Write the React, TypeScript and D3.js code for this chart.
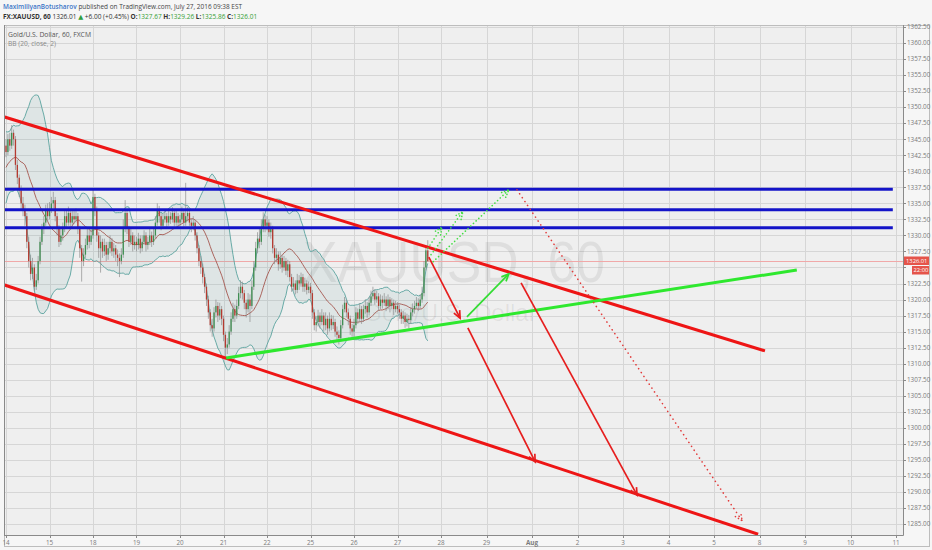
import React, { useRef, useEffect } from 'react';
import * as d3 from 'd3';

// time axis: one slot per trading day, the chart's own labels
const dayLabels = ['14', '15', '18', '19', '20', '21', '22', '25', '26', '27', '28', '29', 'Aug', '2', '3', '4', '5', '8', '9', '10', '11'];
const priceTicks = [
    1285, 1287.5, 1290, 1292.5, 1295, 1297.5, 1300, 1302.5, 1305, 1307.5, 1310, 1312.5, 1315, 1317.5,
    1320, 1322.5, 1325, 1327.5, 1330, 1332.5, 1335, 1337.5, 1340, 1342.5, 1345, 1347.5, 1350, 1352.5,
    1355, 1357.5, 1360, 1362.5,
];
const barsPerDay = 23;

// hourly bars: [high, low, close]; open = previous close
type Bar = [number, number, number];

// closes before the visible window, only used to seed BB(20)
const jul13Seed = [1336, 1334, 1337, 1339, 1341, 1338, 1342, 1344, 1340, 1337, 1339, 1343, 1345, 1342, 1340, 1343, 1341, 1338, 1342, 1344];

const jul14: Bar[] = [
    [1345, 1342.2, 1343], [1345.8, 1342.5, 1345], [1346, 1343.2, 1344], [1347.2, 1343.5, 1346], [1346.5, 1344, 1345],
    [1345.5, 1340.2, 1341], [1341.8, 1338, 1339], [1339.5, 1336, 1337], [1337.8, 1334, 1335], [1336, 1333, 1334],
    [1334.8, 1331.5, 1333], [1333.5, 1328, 1329], [1329.8, 1325, 1326], [1327, 1323, 1324], [1326.5, 1323.2, 1325],
    [1325.5, 1321.3, 1322], [1324, 1321.5, 1323], [1326.8, 1322.5, 1326], [1329.8, 1325.5, 1329], [1331.8, 1328.5, 1331],
    [1333, 1330.2, 1332], [1334.8, 1331.5, 1334], [1335, 1332.2, 1333],
];
const jul15: Bar[] = [
    [1335.2, 1332.5, 1334], [1336, 1333.5, 1335], [1336.8, 1334.2, 1335.5], [1336, 1332.2, 1333], [1333.5, 1330, 1331],
    [1331.6, 1328.2, 1329], [1331, 1328.5, 1330], [1332, 1329.2, 1331], [1333.8, 1330.5, 1333], [1334, 1331.2, 1332],
    [1334.5, 1331.5, 1333.5], [1334, 1331, 1332], [1333.8, 1331.5, 1333], [1334, 1331.8, 1332.5], [1334.2, 1332, 1333],
    [1333.5, 1330.2, 1331], [1331.5, 1326.5, 1328], [1328.5, 1322.8, 1326], [1328, 1325.2, 1327], [1329.5, 1326.5, 1328.5],
    [1331, 1327.8, 1330], [1330.8, 1328, 1329], [1331.2, 1328.5, 1330],
];
const jul18: Bar[] = [
    [1337.3, 1329.5, 1336], [1336.5, 1333, 1334], [1334.5, 1329, 1330], [1330.5, 1326.5, 1328], [1330, 1324.2, 1329],
    [1329.5, 1326.5, 1327.5], [1329.5, 1326.8, 1328.5], [1329, 1326, 1327], [1329, 1326.2, 1328], [1330, 1327.2, 1329],
    [1329.6, 1326.8, 1327.5], [1328.8, 1326.5, 1328], [1328.5, 1326, 1327], [1327.8, 1325.2, 1326.5], [1327.2, 1323.5, 1326],
    [1328, 1325.5, 1327], [1332.5, 1326.5, 1331], [1335.5, 1330.5, 1333.5], [1334, 1330.2, 1331], [1331.5, 1328.2, 1329],
    [1331, 1328.5, 1330], [1330.5, 1327.5, 1328.5], [1330, 1327.8, 1329],
];
const jul19: Bar[] = [
    [1329.8, 1327.5, 1328.5], [1330.4, 1327.8, 1329.5], [1330, 1327.2, 1328], [1330, 1327.5, 1329], [1330.8, 1328.5, 1330],
    [1330.5, 1327.5, 1328.5], [1329.8, 1327.8, 1329], [1331, 1328.5, 1330], [1330.6, 1328.2, 1329], [1331, 1328.5, 1330],
    [1333, 1329.5, 1332], [1335, 1331.5, 1334], [1334.6, 1332, 1333], [1333.5, 1330.8, 1331.5], [1333.4, 1331, 1332.5],
    [1334, 1332, 1333], [1333.5, 1331.2, 1332], [1333.8, 1331.5, 1333], [1333.6, 1331.8, 1332.5], [1334.4, 1332, 1333.5],
    [1334, 1331.4, 1332], [1333.8, 1331.5, 1333], [1333.5, 1331.2, 1332],
];
const jul20: Bar[] = [
    [1333.2, 1331.5, 1332.5], [1334.5, 1332, 1333.5], [1334, 1331.4, 1332], [1338.2, 1331.5, 1333], [1334.4, 1332.2, 1333.5],
    [1334, 1331.5, 1332], [1332.6, 1330.5, 1331.5], [1333, 1330.8, 1332], [1332.4, 1329.2, 1330], [1330.5, 1327.2, 1328],
    [1328.5, 1325.2, 1326], [1326.8, 1324, 1325], [1325.6, 1322.5, 1323.5], [1324, 1321, 1322], [1322.5, 1319, 1320],
    [1320.6, 1317, 1318], [1318.5, 1315, 1316], [1317, 1314.2, 1315.5], [1318.8, 1315, 1318], [1320, 1317.2, 1319],
    [1319.6, 1316.5, 1317.5], [1319.5, 1316.8, 1318.5], [1319, 1316, 1317],
];
const jul21: Bar[] = [
    [1317.5, 1313.5, 1314.5], [1315, 1311, 1312.5], [1314, 1311.5, 1313], [1316, 1312.5, 1315], [1318, 1314.5, 1317],
    [1319.5, 1316.5, 1318.5], [1319.2, 1316.5, 1317.5], [1320, 1317, 1319], [1322, 1318.5, 1321], [1323, 1320.2, 1322],
    [1322.8, 1320, 1321], [1321.5, 1318.5, 1319.5], [1320, 1317.2, 1318.5], [1321, 1318, 1320], [1320.8, 1316.5, 1319],
    [1323, 1318.5, 1322], [1326, 1321.5, 1325], [1329, 1324.5, 1328], [1330.5, 1327.2, 1329.5], [1331, 1328, 1329],
    [1332.5, 1328.5, 1331], [1333.6, 1330.5, 1332.5], [1333.2, 1330.5, 1331.5],
];
const jul22: Bar[] = [
    [1333, 1330.8, 1332], [1332.5, 1329.8, 1330.5], [1332, 1329.5, 1331], [1331.5, 1327.2, 1328], [1328.5, 1325.5, 1326.5],
    [1328, 1325.8, 1327], [1327.5, 1324.5, 1325.5], [1327.5, 1324.8, 1326.5], [1327, 1324.2, 1325], [1326.8, 1324.5, 1326],
    [1326.5, 1323.8, 1324.5], [1326.2, 1323.5, 1325.5], [1326, 1322.8, 1323.5], [1324, 1321.2, 1322], [1323.5, 1321.4, 1322.5],
    [1323, 1320.8, 1321.5], [1324, 1321, 1323], [1323.8, 1321.5, 1322.5], [1324.2, 1322, 1323.5], [1324, 1321.2, 1322],
    [1323.4, 1321.2, 1322.5], [1323, 1320.8, 1321.5], [1322.8, 1321, 1322],
];
const jul25: Bar[] = [
    [1322.6, 1320, 1321], [1321.5, 1317, 1318], [1318.5, 1315.2, 1316], [1317.4, 1315, 1316.5], [1318.4, 1315.8, 1317.5],
    [1318, 1315.5, 1316.5], [1318.5, 1316, 1317.5], [1318, 1315, 1316], [1318, 1315.2, 1317], [1317.5, 1314.5, 1315.5],
    [1318, 1315, 1317], [1317.6, 1315.2, 1316], [1317.5, 1315.4, 1316.5], [1317, 1314.2, 1315], [1315.8, 1313.5, 1314.5],
    [1315.2, 1313, 1314], [1316.8, 1313.5, 1316], [1319.2, 1315.5, 1318.5], [1320.4, 1318, 1319.5], [1320, 1317.2, 1318],
    [1318.6, 1316, 1317], [1317.5, 1314.5, 1315.5], [1316.2, 1314.2, 1315],
];
const jul26: Bar[] = [
    [1317, 1314.2, 1316], [1318.8, 1315.5, 1318], [1318.6, 1316.2, 1317], [1319.4, 1316.5, 1318.5], [1319, 1316.2, 1317],
    [1319.2, 1316.5, 1318.5], [1320, 1317.8, 1319], [1319.6, 1317.2, 1318], [1320.4, 1317.5, 1319.5], [1321.4, 1319, 1320.5],
    [1322, 1320, 1321], [1321.6, 1319.2, 1320], [1321.4, 1319.5, 1320.5], [1321, 1318.2, 1319], [1320.8, 1318.5, 1320],
    [1320.6, 1318.6, 1319.5], [1321, 1319, 1320], [1320.5, 1318.2, 1319], [1320.8, 1318.5, 1320], [1320.4, 1318, 1319],
    [1320.2, 1318.5, 1319.5], [1320, 1317.6, 1318.5], [1319.8, 1318, 1319],
];
const jul27: Bar[] = [
    [1319.6, 1317.8, 1318.5], [1319.2, 1317, 1318], [1318.5, 1316.2, 1317], [1318.2, 1316.2, 1317.5], [1318, 1315.6, 1316.5],
    [1317.8, 1315.8, 1317], [1317.6, 1315.5, 1316.8], [1318.8, 1316.2, 1318], [1319.4, 1317.4, 1318.5], [1319.8, 1317.8, 1319],
    [1320.4, 1318.6, 1319.5], [1320.2, 1318.2, 1319], [1320.8, 1318.6, 1320], [1322, 1319.5, 1321], [1326, 1320.5, 1325],
    [1328.5, 1324.5, 1327.67], [1329.26, 1325.86, 1326.01],
];
const sessions = [jul14, jul15, jul18, jul19, jul20, jul21, jul22, jul25, jul26, jul27];
const lastPrice = 1326.01;

// hand drawings, as [day slot, price] points
type Pt = [number, number];
const redChannel: Pt[][] = [
    [[-0.05, 1348.5], [17.12, 1312.0]],
    [[-0.05, 1322.3], [16.97, 1283.4]],
];
const blueLevels = [1337.2, 1334.0, 1331.2];
const blueSpan: [number, number] = [-0.05, 19.93];
const greenTrend: Pt[] = [[5.06, 1310.9], [17.82, 1324.6]];
const redArrows: Pt[][] = [
    [[9.72, 1326.6], [10.42, 1317.1]],
    [[10.59, 1315.6], [12.07, 1294.7]],
    [[11.76, 1322.6], [14.31, 1289.5]],
];
const greenArrows: Pt[][] = [[[10.57, 1317.3], [11.49, 1324.0]]];
const redDotted: Pt[][] = [[[11.67, 1337.1], [16.62, 1285.5]]];
const greenDotted: Pt[][] = [
    [[9.70, 1328.0], [10.02, 1331.3]],
    [[9.77, 1327.0], [10.48, 1333.7]],
    [[9.82, 1325.9], [11.49, 1337.1]],
];

const W = 932;
const H = 550;
const plot = { left: 4, top: 25, right: 903, bottom: 535 };
const font = "'Open Sans', 'DejaVu Sans', sans-serif";

export default function App() {
    const svgRef = useRef<SVGSVGElement | null>(null);

    useEffect(() => {
        if (!svgRef.current) return;
        const svg = d3.select(svgRef.current);
        svg.selectAll('*').remove();

        const x = d3.scaleLinear().domain([0, 10, 20]).range([6, 441, 896]);
        const y = d3.scaleLinear().domain([1285, 1362.5]).range([524, 27]);

        // bars with their slot position
        const bars: { d: number; o: number; h: number; l: number; c: number }[] = [];
        let prev = jul13Seed[jul13Seed.length - 1];
        sessions.forEach((day, i) => day.forEach(([h, l, c], j) => {
            bars.push({ d: i + j / barsPerDay, o: prev, h, l, c });
            prev = c;
        }));

        // Bollinger bands (20, close, 2)
        const closes = [...jul13Seed, ...bars.map(b => b.c)];
        const n0 = jul13Seed.length;
        const bb = bars.map((b, k) => {
            const w = closes.slice(k + n0 - 19, k + n0 + 1);
            const m = d3.mean(w)!;
            const sd = Math.sqrt(d3.mean(w, v => (v - m) ** 2)!);
            return { d: b.d, m, up: m + 2 * sd, lo: m - 2 * sd };
        });

        svg.append('rect').attr('width', W).attr('height', H).attr('fill', '#f6f6f6');
        svg.append('rect')
            .attr('x', plot.left).attr('y', plot.top)
            .attr('width', plot.right - plot.left).attr('height', plot.bottom - plot.top)
            .attr('fill', '#efefef');

        svg.append('clipPath').attr('id', 'plotClip')
            .append('rect')
            .attr('x', plot.left).attr('y', plot.top)
            .attr('width', plot.right - plot.left).attr('height', plot.bottom - plot.top);

        const g = svg.append('g').attr('clip-path', 'url(#plotClip)');

        // grid
        g.selectAll('.hgrid').data(priceTicks).enter().append('line')
            .attr('x1', plot.left).attr('x2', plot.right)
            .attr('y1', d => Math.round(y(d)) + 0.5).attr('y2', d => Math.round(y(d)) + 0.5)
            .attr('stroke', '#d6d6d6').attr('stroke-width', 1);
        g.selectAll('.vgrid').data(dayLabels).enter().append('line')
            .attr('x1', (d, i) => Math.round(x(i)) + 0.5).attr('x2', (d, i) => Math.round(x(i)) + 0.5)
            .attr('y1', plot.top).attr('y2', plot.bottom)
            .attr('stroke', '#d6d6d6').attr('stroke-width', 1);

        // watermark
        g.append('text')
            .attr('x', 454).attr('y', 282)
            .attr('text-anchor', 'middle')
            .attr('textLength', 302).attr('lengthAdjust', 'spacingAndGlyphs')
            .attr('font-family', "'Liberation Sans', Arial, sans-serif")
            .attr('font-size', 58)
            .attr('fill', 'rgba(0,0,0,0.07)')
            .text('XAUUSD, 60');
        g.append('text')
            .attr('x', 450).attr('y', 321)
            .attr('text-anchor', 'middle')
            .attr('font-family', "'Liberation Sans', Arial, sans-serif")
            .attr('font-size', 24)
            .attr('fill', 'rgba(0,0,0,0.07)')
            .text('Gold/U.S. Dollar');

        // last price line
        g.append('line')
            .attr('x1', plot.left).attr('x2', plot.right)
            .attr('y1', Math.round(y(lastPrice)) + 0.5).attr('y2', Math.round(y(lastPrice)) + 0.5)
            .attr('stroke', '#f0a8a8').attr('stroke-width', 1);

        // BB
        g.append('path').datum(bb)
            .attr('d', d3.area<typeof bb[0]>().x(d => x(d.d)).y0(d => y(d.lo)).y1(d => y(d.up)))
            .attr('fill', 'rgba(110,165,165,0.13)');
        const bbLine = (key: 'up' | 'lo' | 'm', color: string) => {
            g.append('path').datum(bb)
                .attr('d', d3.line<typeof bb[0]>().x(d => x(d.d)).y(d => y(d[key])))
                .attr('fill', 'none').attr('stroke', color).attr('stroke-width', 0.9);
        };
        bbLine('up', '#5aa39e');
        bbLine('lo', '#5aa39e');
        bbLine('m', '#a5574f');

        // candles
        const bw = 1.3;
        const candles = g.selectAll('.candle').data(bars).enter().append('g');
        candles.append('line')
            .attr('x1', d => x(d.d)).attr('x2', d => x(d.d))
            .attr('y1', d => y(d.h)).attr('y2', d => y(d.l))
            .attr('stroke', '#8d8d8d').attr('stroke-width', 0.7);
        candles.append('rect')
            .attr('x', d => x(d.d) - bw / 2)
            .attr('width', bw)
            .attr('y', d => y(Math.max(d.o, d.c)))
            .attr('height', d => Math.max(0.8, Math.abs(y(d.o) - y(d.c))))
            .attr('fill', d => d.c >= d.o ? '#3f8f52' : '#b53a30');

        // drawings
        const seg = (pts: Pt[], color: string, width: number, dash?: string) => {
            const p = g.append('line')
                .attr('x1', x(pts[0][0])).attr('y1', y(pts[0][1]))
                .attr('x2', x(pts[1][0])).attr('y2', y(pts[1][1]))
                .attr('stroke', color).attr('stroke-width', width)
                .attr('stroke-linecap', dash ? 'round' : 'butt');
            if (dash) p.attr('stroke-dasharray', dash);
        };
        const head = (pts: Pt[], color: string, width: number, dash?: string) => {
            const x1 = x(pts[0][0]), y1 = y(pts[0][1]);
            const x2 = x(pts[1][0]), y2 = y(pts[1][1]);
            const a = Math.atan2(y2 - y1, x2 - x1);
            const len = 8, spread = 0.42;
            const p = g.append('path')
                .attr('d', `M${x2 - len * Math.cos(a - spread)},${y2 - len * Math.sin(a - spread)}L${x2},${y2}L${x2 - len * Math.cos(a + spread)},${y2 - len * Math.sin(a + spread)}`)
                .attr('fill', 'none').attr('stroke', color).attr('stroke-width', width)
                .attr('stroke-linecap', dash ? 'round' : 'butt');
            if (dash) p.attr('stroke-dasharray', dash);
        };

        blueLevels.forEach(p => seg([[blueSpan[0], p], [blueSpan[1], p]], '#1414c8', 3));
        redChannel.forEach(l => seg(l, '#ee1515', 3));
        seg(greenTrend, '#2ee82e', 3);
        redArrows.forEach(a => { seg(a, '#e61e1e', 1.7); head(a, '#e61e1e', 1.7); });
        greenArrows.forEach(a => { seg(a, '#33dd33', 1.7); head(a, '#33dd33', 1.7); });
        redDotted.forEach(a => { seg(a, '#e23a3a', 1.6, '0.1 4.6'); head(a, '#e23a3a', 1.6, '0.1 3.4'); });
        greenDotted.forEach(a => { seg(a, '#44dd44', 1.6, '0.1 3.6'); head(a, '#44dd44', 1.6, '0.1 3'); });

        // frames
        svg.append('rect')
            .attr('x', plot.left + 0.5).attr('y', plot.top + 0.5)
            .attr('width', 929 - plot.left).attr('height', 546 - plot.top)
            .attr('fill', 'none').attr('stroke', '#bdbdbd');
        svg.append('line')
            .attr('x1', plot.right + 0.5).attr('x2', plot.right + 0.5)
            .attr('y1', plot.top).attr('y2', plot.bottom + 0.5)
            .attr('stroke', '#8a8a8a');
        svg.append('line')
            .attr('x1', plot.left).attr('x2', plot.right + 0.5)
            .attr('y1', plot.bottom + 0.5).attr('y2', plot.bottom + 0.5)
            .attr('stroke', '#8a8a8a');
        svg.append('line')
            .attr('x1', plot.left + 0.5).attr('x2', plot.left + 0.5)
            .attr('y1', plot.top).attr('y2', plot.bottom)
            .attr('stroke', '#8a8a8a');

        // price axis; labels under the last-price tags are hidden, as on the chart
        const ly = y(lastPrice);
        const visibleTicks = priceTicks.filter(p => Math.abs(y(p) - (ly + 4)) > 9);
        const yAxis = svg.append('g');
        yAxis.selectAll('line').data(priceTicks).enter().append('line')
            .attr('x1', plot.right).attr('x2', plot.right + 3)
            .attr('y1', d => Math.round(y(d)) + 0.5).attr('y2', d => Math.round(y(d)) + 0.5)
            .attr('stroke', '#8a8a8a');
        yAxis.selectAll('text').data(visibleTicks).enter().append('text')
            .attr('x', plot.right + 4).attr('y', d => y(d) + 2.3)
            .attr('font-family', font).attr('font-size', 6.3)
            .attr('fill', '#7a7a7a')
            .text(d => d3.format('.2f')(d));

        // last price tags
        svg.append('rect').attr('x', plot.right + 1).attr('y', ly - 4.5).attr('width', 25).attr('height', 8.5).attr('fill', '#e5544a');
        svg.append('text').attr('x', plot.right + 3).attr('y', ly + 1.8)
            .attr('font-family', font).attr('font-size', 5.8).attr('fill', '#fff').text(lastPrice.toFixed(2));
        svg.append('rect').attr('x', plot.right + 9).attr('y', ly + 5).attr('width', 17).attr('height', 8.5).attr('fill', '#e5544a');
        svg.append('text').attr('x', plot.right + 10.5).attr('y', ly + 11.3)
            .attr('font-family', font).attr('font-size', 5.8).attr('fill', '#fff').text('22:00');

        // time axis
        const xAxis = svg.append('g');
        xAxis.selectAll('line').data(dayLabels).enter().append('line')
            .attr('x1', (d, i) => Math.round(x(i)) + 0.5).attr('x2', (d, i) => Math.round(x(i)) + 0.5)
            .attr('y1', plot.bottom).attr('y2', plot.bottom + 3)
            .attr('stroke', '#8a8a8a');
        xAxis.selectAll('text').data(dayLabels).enter().append('text')
            .attr('x', (d, i) => x(i)).attr('y', 544.5)
            .attr('text-anchor', 'middle')
            .attr('font-family', font).attr('font-size', 6.3)
            .attr('font-weight', d => d === 'Aug' ? 700 : 400)
            .attr('fill', '#7a7a7a')
            .text(d => d);

        // header
        const h1 = svg.append('text').attr('x', 3).attr('y', 9)
            .attr('font-family', font).attr('font-size', 6.45);
        h1.append('tspan').attr('fill', '#3b74c6').attr('font-weight', 600).text('MaximiliyanBotusharov');
        h1.append('tspan').attr('fill', '#444').text(' published on TradingView.com, July 27, 2016 09:38 EST');

        const h2 = svg.append('text').attr('x', 3).attr('y', 19)
            .attr('font-family', font).attr('font-size', 6.5).attr('fill', '#333');
        const parts: [string, string, number][] = [
            ['FX:XAUUSD, 60', '#333', 700], [' 1326.01 ', '#333', 400], ['▲', '#2e9e3e', 400],
            [' +6.00 (+0.45%) ', '#333', 400],
            ['O:', '#333', 700], ['1327.67', '#35a035', 400], [' H:', '#333', 700], ['1329.26', '#35a035', 400],
            [' L:', '#333', 700], ['1325.86', '#35a035', 400], [' C:', '#333', 700], ['1326.01', '#35a035', 400],
        ];
        parts.forEach(([t, c, w]) => h2.append('tspan').attr('fill', c).attr('font-weight', w).text(t));

        svg.append('text').attr('x', 8).attr('y', 36.5)
            .attr('font-family', font).attr('font-size', 7).attr('fill', '#555')
            .attr('textLength', 83).attr('lengthAdjust', 'spacingAndGlyphs')
            .text('Gold/U.S. Dollar, 60, FXCM');
        svg.append('text').attr('x', 8).attr('y', 46)
            .attr('font-family', font).attr('font-size', 6.6).attr('fill', '#8a8a8a')
            .text('BB (20, close, 2)');
    }, []);

    return (
        <svg ref={svgRef} width={W} height={H} style={{ position: 'absolute', left: 0, top: 0 }}></svg>
    );
}
